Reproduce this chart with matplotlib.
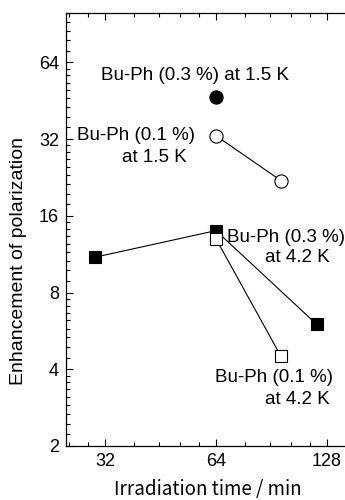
import matplotlib
matplotlib.use("Agg")
import matplotlib.pyplot as plt
import numpy as np
from matplotlib.ticker import FixedLocator, NullFormatter

plt.rcParams['font.family'] = ['Liberation Sans', 'DejaVu Sans']

# data
c03_15_x = [64]
c03_15_y = [47]
c01_15_x = [64, 96]
c01_15_y = [33, 22]
s03_42_x = [30, 64, 120]
s03_42_y = [11, 14, 6]
s01_42_x = [64, 96]
s01_42_y = [13, 4.5]

xticks = [32, 64, 128]
yticks = [2, 4, 8, 16, 32, 64]

fig = plt.figure(figsize=(3.45, 5.0), dpi=100)
ax = fig.add_axes([66/345, 54/500, (345-66)/345, (446-13)/500])
ax.set_xscale('log', base=2)
ax.set_yscale('log', base=2)

lw = 0.8
ax.plot(c01_15_x, c01_15_y, '-', color='black', lw=lw, zorder=1)
ax.plot(s03_42_x, s03_42_y, '-', color='black', lw=lw, zorder=1)
ax.plot(s01_42_x, s01_42_y, '-', color='black', lw=lw, zorder=1)

ax.plot(c03_15_x, c03_15_y, 'o', ms=9.5, mfc='black', mec='black', mew=0.8, zorder=3)
ax.plot(c01_15_x, c01_15_y, 'o', ms=9.5, mfc='white', mec='black', mew=0.8, zorder=3)
ax.plot(s03_42_x, s03_42_y, 's', ms=8.5, mfc='black', mec='black', mew=0.8, zorder=3)
ax.plot(s01_42_x, s01_42_y, 's', ms=8.5, mfc='white', mec='black', mew=0.8, zorder=4)

ax.set_xlim(25.1, 143.2)
ax.set_ylim(2, 100)

ax.xaxis.set_major_locator(FixedLocator(xticks))
ax.set_xticklabels([str(t) for t in xticks])
ax.yaxis.set_major_locator(FixedLocator(yticks))
ax.set_yticklabels([str(t) for t in yticks])

# minor ticks
xminor = []
for base in [16, 32, 64, 128]:
    for k in range(1, 5):
        xminor.append(base * (1 + k / 5))
ax.xaxis.set_minor_locator(FixedLocator(xminor))
yminor = []
for base in [1, 2, 4, 8, 16, 32, 64]:
    for k in range(1, 9):
        yminor.append(base * (1 + k / 9))
ax.yaxis.set_minor_locator(FixedLocator(yminor))
ax.xaxis.set_minor_formatter(NullFormatter())
ax.yaxis.set_minor_formatter(NullFormatter())

ax.tick_params(which='both', direction='in', top=True, right=False, width=0.8)
ax.tick_params(which='major', length=5, labelsize=13, pad=5)
ax.tick_params(which='minor', length=3)
ax.spines['right'].set_visible(False)
for s in ['left', 'top', 'bottom']:
    ax.spines[s].set_linewidth(0.9)

fig.text(19/345, 1 - 261/500, 'Enhancement of polarization', rotation=90,
         ha='center', va='center', fontsize=14)
fig.text(208/345, 1 - 489/500, 'Irradiation time / min', ha='center', va='center',
         fontsize=13.5, family=['Noto Sans CJK JP', 'DejaVu Sans'])

fs = 13.5
ax.text(195/345, 1 - 76/500, 'Bu-Ph (0.3 %) at 1.5 K', transform=fig.transFigure,
        ha='center', va='center', fontsize=fs)
ax.text(195/345, 1 - 136/500, 'Bu-Ph (0.1 %)', transform=fig.transFigure,
        ha='right', va='center', fontsize=fs)
ax.text(154/345, 1 - 157/500, 'at 1.5 K', transform=fig.transFigure,
        ha='center', va='center', fontsize=fs)
ax.text(227/345, 1 - 237/500, 'Bu-Ph (0.3 %)', transform=fig.transFigure,
        ha='left', va='center', fontsize=fs)
ax.text(330/345, 1 - 258/500, 'at 4.2 K', transform=fig.transFigure,
        ha='right', va='center', fontsize=fs)
ax.text(333/345, 1 - 378/500, 'Bu-Ph (0.1 %)', transform=fig.transFigure,
        ha='right', va='center', fontsize=fs)
ax.text(330/345, 1 - 400/500, 'at 4.2 K', transform=fig.transFigure,
        ha='right', va='center', fontsize=fs)

fig.savefig('out.png', dpi=100)
